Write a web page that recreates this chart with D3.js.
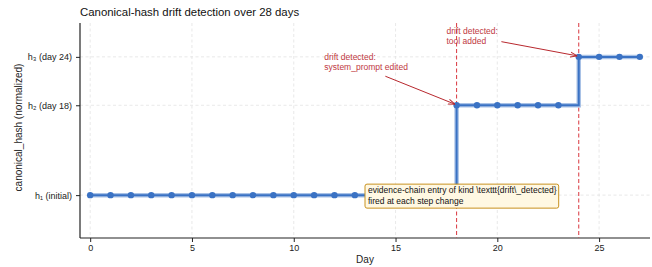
<!DOCTYPE html>
<html>
<head>
<meta charset="utf-8">
<script src="https://cdn.jsdelivr.net/npm/d3@7"></script>
<style>
  body { margin: 0; background: #fff; }
  svg { display: block; font-family: "Liberation Sans", Arial, sans-serif; }
</style>
</head>
<body>
<script>
"use strict";

// Data

let days = d3.range(0, 28);
let hashLevel = [0, 0, 0, 0, 0, 0, 0, 0, 0, 0, 0, 0, 0, 0, 0, 0, 0, 0,
                 0.65, 0.65, 0.65, 0.65, 0.65, 0.65,
                 1, 1, 1, 1];
let yTickValues = [0, 0.65, 1];
let yTickLabels = ["h\u2081 (initial)", "h\u2082 (day 18)", "h\u2083 (day 24)"];
let xTickValues = [0, 5, 10, 15, 20, 25];
let driftDays = [18, 24];
let driftLabels = [["drift detected:", "system_prompt edited"], ["drift detected:", "tool added"]];
let noteLines = ["evidence-chain entry of kind \\texttt{drift\\_detected}", "fired at each step change"];

// Layout

let svgWidth = 652;
let svgHeight = 267;
let margin = {top: 23, right: 2, bottom: 29, left: 80};
let width = svgWidth - margin.left - margin.right;
let height = svgHeight - margin.top - margin.bottom;

let xScale = d3.scaleLinear()
    .domain([-0.5, 27.5])
    .range([0, width]);

let yScale = d3.scaleLinear()
    .domain([-0.31, 1.245])
    .range([height, 0]);

let svg = d3.select("body").append("svg")
    .attr("width", svgWidth)
    .attr("height", svgHeight);

let g = svg.append("g")
    .attr("transform", `translate(${margin.left}, ${margin.top})`);

// Grid

g.append("g")
    .selectAll("line")
    .data(xTickValues)
    .join("line")
    .attr("x1", d => xScale(d)).attr("x2", d => xScale(d))
    .attr("y1", 0).attr("y2", height)
    .attr("stroke", "#e3e3e3")
    .attr("stroke-dasharray", "3,2.5")
    .attr("stroke-width", 0.8);

g.append("g")
    .selectAll("line")
    .data(yTickValues)
    .join("line")
    .attr("x1", 0).attr("x2", width)
    .attr("y1", d => yScale(d)).attr("y2", d => yScale(d))
    .attr("stroke", "#e3e3e3")
    .attr("stroke-dasharray", "3,2.5")
    .attr("stroke-width", 0.8);

// Axes

let xAxis = d3.axisBottom(xScale)
    .tickValues(xTickValues)
    .tickSize(4)
    .tickPadding(3);

let yAxis = d3.axisLeft(yScale)
    .tickValues(yTickValues)
    .tickFormat((d, i) => yTickLabels[i])
    .tickSize(4)
    .tickPadding(4);

let gx = g.append("g")
    .attr("transform", `translate(0, ${height})`)
    .call(xAxis);

let gy = g.append("g")
    .call(yAxis);

[gx, gy].forEach(a => {
    a.select(".domain").attr("stroke", "#222").attr("stroke-width", 1.2);
    a.selectAll(".tick line").attr("stroke", "#222").attr("stroke-width", 1);
    a.selectAll(".tick text")
        .attr("fill", "#222")
        .style("font-size", "9px");
});
// squared spine ends instead of tick outer caps
gx.select(".domain").attr("d", `M0,0H${width}`);
gy.select(".domain").attr("d", `M0,0V${height}`);

svg.append("text")
    .attr("x", margin.left + width / 2)
    .attr("y", 263)
    .attr("text-anchor", "middle")
    .style("font-size", "10px")
    .attr("fill", "#222")
    .text("Day");

svg.append("text")
    .attr("transform", `translate(22, ${margin.top + height / 2 - 3}) rotate(-90)`)
    .attr("text-anchor", "middle")
    .style("font-size", "10px")
    .attr("fill", "#222")
    .text("canonical_hash (normalized)");

svg.append("text")
    .attr("x", margin.left)
    .attr("y", 16)
    .style("font-size", "11.4px")
    .attr("fill", "#111")
    .text("Canonical-hash drift detection over 28 days");

// Drift markers

g.append("g")
    .selectAll("line")
    .data(driftDays)
    .join("line")
    .attr("x1", d => xScale(d)).attr("x2", d => xScale(d))
    .attr("y1", 0).attr("y2", height)
    .attr("stroke", "#d9363e")
    .attr("stroke-width", 1)
    .attr("stroke-dasharray", "4,2.5");

// Step line

let points = days.map((d, i) => [xScale(d), yScale(hashLevel[i])]);
let step = d3.line().curve(d3.curveStepAfter);

g.append("path")
    .attr("d", step(points))
    .attr("fill", "none")
    .attr("stroke", "#a9c2e6")
    .attr("stroke-width", 4.5);

g.append("path")
    .attr("d", step(points))
    .attr("fill", "none")
    .attr("stroke", "#3a72c4")
    .attr("stroke-width", 2);

g.append("g")
    .selectAll("circle")
    .data(days)
    .join("circle")
    .attr("cx", d => xScale(d))
    .attr("cy", (d, i) => yScale(hashLevel[i]))
    .attr("r", 3.2)
    .attr("fill", "#3a72c4");

// Annotations

svg.append("defs").append("marker")
    .attr("id", "arrow")
    .attr("viewBox", "0 0 10 10")
    .attr("refX", 10).attr("refY", 5)
    .attr("markerWidth", 7).attr("markerHeight", 7)
    .attr("orient", "auto")
    .append("path")
    .attr("d", "M0,1.5 L10,5 L0,8.5")
    .attr("fill", "none")
    .attr("stroke", "#b8282e")
    .attr("stroke-width", 1.4);

let notePos = [
    {tx: 11.5, ty: 0.975, ax: 14.5, ay: 0.86},
    {tx: 17.5, ty: 1.165, ax: 20.2, ay: 1.11}
];

driftDays.forEach((d, i) => {
    let p = notePos[i];
    let t = g.append("text")
        .attr("x", xScale(p.tx))
        .attr("y", yScale(p.ty))
        .attr("fill", "#c0393f")
        .style("font-size", "8.5px");
    t.selectAll("tspan")
        .data(driftLabels[i])
        .join("tspan")
        .attr("x", xScale(p.tx))
        .attr("dy", (s, j) => j ? "1.15em" : 0)
        .text(s => s);
    g.append("line")
        .attr("x1", xScale(p.ax)).attr("y1", yScale(p.ay))
        .attr("x2", xScale(d) - 1.5).attr("y2", yScale(hashLevel[d]) - 1)
        .attr("stroke", "#b8282e")
        .attr("stroke-width", 1)
        .attr("marker-end", "url(#arrow)");
});

let note = g.append("g")
    .attr("transform", `translate(${xScale(13.5)}, ${yScale(0) - 11})`);

let noteRect = note.append("rect")
    .attr("fill", "#fff8e3")
    .attr("stroke", "#c8921f")
    .attr("stroke-width", 1)
    .attr("rx", 2).attr("ry", 2);

let noteText = note.append("text")
    .attr("fill", "#111")
    .style("font-size", "8.5px");
noteText.selectAll("tspan")
    .data(noteLines)
    .join("tspan")
    .attr("x", 3)
    .attr("y", (s, j) => 9 + j * 10.5)
    .text(s => s);

let bound = noteText.node().getBBox();
noteRect
    .attr("x", 0).attr("y", 0)
    .attr("width", bound.width + 5)
    .attr("height", 24);
</script>
</body>
</html>
